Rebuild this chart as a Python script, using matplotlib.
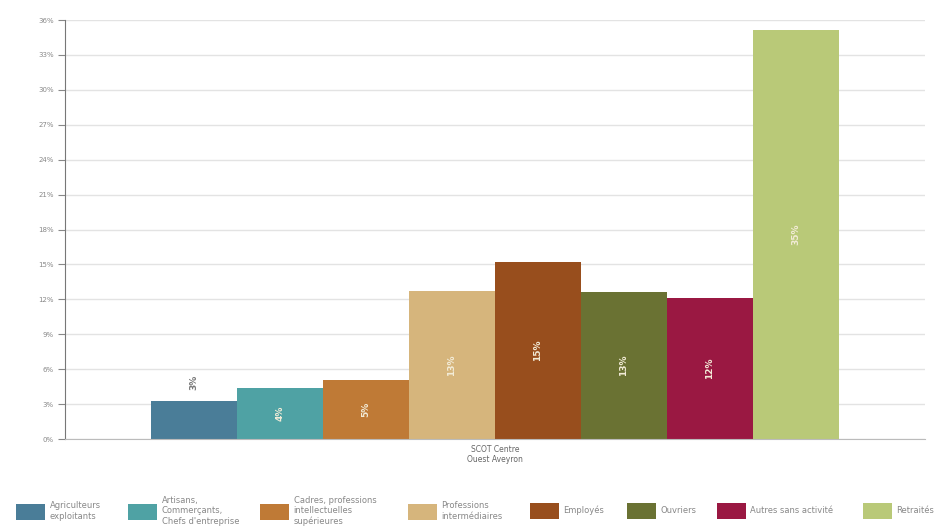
import matplotlib.pyplot as plt
from matplotlib.ticker import MultipleLocator, FuncFormatter

# CSP distribution, SCOT Centre Ouest Aveyron
categories = [
    "Agriculteurs\nexploitants",
    "Artisans,\nCommerçants,\nChefs d'entreprise",
    "Cadres, professions\nintellectuelles\nsupérieures",
    "Professions\nintermédiaires",
    "Employés",
    "Ouvriers",
    "Autres sans activité",
    "Retraités",
]
values = [3.3, 4.4, 5.1, 12.7, 15.2, 12.6, 12.1, 35.1]
colors = ["#4a7d98", "#4fa2a4", "#bf7a36", "#d6b57c",
          "#984e1d", "#6a7233", "#9a1842", "#b9c978"]
group_label = "SCOT Centre\nOuest Aveyron"

fig = plt.figure(figsize=(9.44, 5.31), dpi=100)
ax = fig.add_axes([65 / 944, 92 / 531, 860 / 944, 419 / 531])

n = len(values)
w = 0.8 / n
handles = []
for i, (cat, v, c) in enumerate(zip(categories, values, colors)):
    x = (i - (n - 1) / 2) * w
    b = ax.bar(x, v, width=w, color=c, label=cat, linewidth=0)
    handles.append(b)
    txt = f"{round(v)}%"
    if v < 4:
        ax.text(x, v + 0.9, txt, rotation=90, ha="center", va="bottom",
                fontsize=6.5, color="#777777", fontweight="bold")
    else:
        ax.text(x, v / 2, txt, rotation=90, ha="center", va="center",
                fontsize=6.5, color="#f3ecd8", fontweight="bold")

ax.set_xlim(-0.5, 0.5)
ax.set_ylim(0, 36)
ax.yaxis.set_major_locator(MultipleLocator(3))
ax.yaxis.set_major_formatter(FuncFormatter(lambda v, p: f"{v:.0f}%"))
ax.set_xticks([0])
ax.set_xticklabels([group_label])
ax.tick_params(axis="x", length=0, labelsize=5.5, labelcolor="#666666", pad=4)
ax.tick_params(axis="y", length=5, width=0.8, color="#888888",
               labelsize=5, labelcolor="#888888", pad=3)
ax.grid(axis="y", color="#e3e3e3", linewidth=1)
ax.set_axisbelow(True)
for s in ["top", "right"]:
    ax.spines[s].set_visible(False)
ax.spines["left"].set_color("#777777")
ax.spines["left"].set_linewidth(0.8)
ax.spines["bottom"].set_color("#bbbbbb")

# one legend entry per slot, laid out along the bottom like the original
legend_x = [16, 128, 260, 408, 530, 627, 717, 863]
for h, lx in zip(handles, legend_x):
    fig.legend(handles=[h], loc="center left",
               bbox_to_anchor=((lx - 4) / 944, 0.038), frameon=False,
               fontsize=6, labelcolor="#888888", handlelength=3.4,
               handleheight=2.6, handletextpad=0.6, borderpad=0,
               labelspacing=0)

fig.savefig("out.png", dpi=100)
